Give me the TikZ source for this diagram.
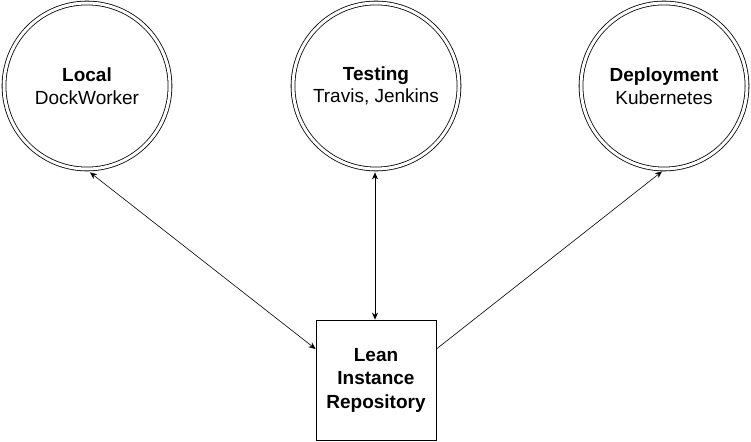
\documentclass[tikz,border=0pt]{standalone}
\usepackage{fontspec}
\setmainfont{Liberation Sans}
\usetikzlibrary{arrows.meta}
\begin{document}
\begin{tikzpicture}[x=1pt,y=-1pt,
  ring/.style={circle,draw,line width=0.8pt,double,double distance=3pt,minimum size=166pt,inner sep=0pt,align=center,font=\fontsize{19}{22.5}\selectfont},
  repo/.style={draw,line width=0.8pt,minimum width=120pt,minimum height=120pt,inner sep=0pt,align=center,font=\fontsize{19}{23.5}\selectfont\bfseries},
  conn/.style={line width=0.6pt},
  >={Stealth[length=7pt,width=6pt]}]
\useasboundingbox (0,0) rectangle (751,441);
\node[ring] (local) at (87,86) {\textbf{Local}\\DockWorker};
\node[ring] (testing) at (376,86) {\textbf{Testing}\\Travis, Jenkins};
\node[ring] (deploy) at (664,86) {\textbf{Deployment}\\Kubernetes};
\node[repo] (box) at (376,380) {Lean\\Instance\\Repository};
\draw[conn,<->] ([xshift=3pt,yshift=-3pt]local.south) -- ([yshift=31pt]box.west);
\draw[conn,<->] ([xshift=-1pt,yshift=-3pt]testing.south) -- ([xshift=-1pt]box.north);
\draw[conn,->] ([yshift=31pt]box.east) -- ([xshift=-2pt,yshift=-2pt]deploy.south);
\end{tikzpicture}
\end{document}
